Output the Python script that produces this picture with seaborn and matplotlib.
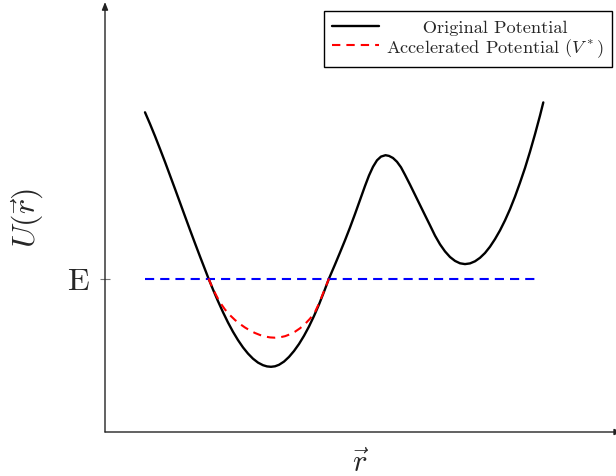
import matplotlib
matplotlib.use("Agg")
import matplotlib.pyplot as plt
import seaborn as sns

# Original potential U(r), arbitrary units
r_orig = [4.0, 4.5, 5.0, 5.5, 6.0, 6.5, 7.0, 7.5, 8.0, 8.5, 9.0, 9.5, 10.0, 10.35,
          10.8, 11.3, 11.8, 12.3, 12.8, 13.3, 13.8, 14.3, 14.8, 15.3, 15.8, 16.2,
          16.6, 17.0, 17.4, 17.9, 18.4, 18.9, 19.4, 19.9, 20.4, 20.9, 21.4, 21.9,
          22.4, 23.0, 23.5, 24.0, 24.5, 25.0, 25.5, 26.0, 26.4, 26.8, 27.2, 27.6,
          28.05, 28.4, 28.8, 29.2, 29.6, 30.0, 30.5, 31.0, 31.5, 32.0, 32.5, 33.0,
          33.5, 34.0, 34.5, 35.0, 35.5, 36.0, 36.5, 37.0, 37.5, 38.0, 38.5, 39.0,
          39.5, 40.0, 40.5, 41.0, 41.5, 42.0, 42.5, 43.0, 43.5, 43.83]
u_orig = [31.97, 30.81, 29.59, 28.31, 27.01, 25.66, 24.31, 22.94, 21.57, 20.21, 18.87,
          17.55, 16.26, 15.35, 14.25, 13.08, 11.98, 10.95, 10.02, 9.19, 8.46, 7.84,
          7.33, 6.94, 6.68, 6.56, 6.52, 6.57, 6.72, 7.04, 7.51, 8.1, 8.8, 9.62,
          10.55, 11.6, 12.75, 14.02, 15.35, 16.75, 17.95, 19.17, 20.45, 21.8, 23.2,
          24.6, 25.65, 26.52, 27.17, 27.54, 27.68, 27.61, 27.4, 27.02, 26.47, 25.72,
          24.74, 23.72, 22.7, 21.68, 20.67, 19.64, 18.77, 18.06, 17.5, 17.11, 16.87,
          16.79, 16.86, 17.07, 17.42, 17.9, 18.53, 19.29, 20.16, 21.16, 22.28, 23.54,
          24.93, 26.4, 28.03, 29.78, 31.64, 32.96]

# Accelerated (boosted) potential V*, defined below the energy level E
r_acc = [10.35, 10.6, 10.9, 11.25, 11.6, 12.0, 12.5, 13.0, 13.5, 14.0, 14.5, 15.0,
         15.5, 16.0, 16.5, 17.0, 17.5, 18.0, 18.5, 19.0, 19.5, 20.0, 20.5, 21.0,
         21.4, 21.8, 22.1, 22.4]
u_acc = [15.35, 14.76, 14.1, 13.42, 12.82, 12.25, 11.68, 11.2, 10.8, 10.45, 10.15,
         9.9, 9.7, 9.55, 9.46, 9.43, 9.47, 9.58, 9.77, 10.03, 10.37, 10.8, 11.33,
         12.0, 12.85, 13.85, 14.6, 15.35]

# Boost energy level E
energy = 15.35
r_energy = [4.0, 43.15]
u_energy = [energy, energy]

sns.set_style("white")
plt.rcParams.update({
    "font.family": "serif",
    "font.serif": ["cmr10"],
    "mathtext.fontset": "cm",
    "axes.unicode_minus": False,
    "axes.formatter.use_mathtext": True,
})

fig = plt.figure(figsize=(6.16, 4.77), dpi=100)
ax = fig.add_axes([105 / 616, 44 / 477, 511 / 616, 430 / 477])

dash = (0, (4.4, 2.9))
sns.lineplot(x=r_orig, y=u_orig, color="black", lw=1.7, ax=ax,
             estimator=None, sort=False, label="      Original Potential")
sns.lineplot(x=r_energy, y=u_energy, color="blue", lw=1.5, linestyle=dash, ax=ax,
             estimator=None, sort=False)
sns.lineplot(x=r_acc, y=u_acc, color="red", lw=1.5, linestyle=(0, (4, 2.9)), ax=ax,
             estimator=None, sort=False, label="Accelerated Potential ($V^*$)")

ax.set_xlim(0, 51.1)
ax.set_ylim(0, 43.0)

# Axis lines with arrow heads
for s in ax.spines.values():
    s.set_visible(False)
arrow = dict(arrowstyle="-|>,head_length=0.45,head_width=0.18", lw=1.0,
             color="#222222", shrinkA=0, shrinkB=0)
ax.annotate("", xy=(0, 1.0), xytext=(0, 0), xycoords="axes fraction",
            textcoords="axes fraction", arrowprops=arrow, annotation_clip=False)
ax.annotate("", xy=(1.012, 0), xytext=(0, 0), xycoords="axes fraction",
            textcoords="axes fraction", arrowprops=arrow, annotation_clip=False)

ax.set_xticks([])
ax.set_yticks([energy])
ax.set_yticklabels(["E"])
ax.tick_params(axis="y", direction="inout", length=7, width=0.8, color="#777777",
               labelsize=23, pad=8, left=True)

ax.set_ylabel(r"$U(\vec{r})$", fontsize=23)
ax.yaxis.set_label_coords(-0.117, 0.5)
ax.set_xlabel(r"$\vec{r}$", fontsize=22)
ax.xaxis.set_label_coords(0.5, -0.038)

leg = ax.legend(loc="upper right", bbox_to_anchor=(612 / 616, 465 / 477),
                bbox_transform=fig.transFigure, frameon=True, fancybox=False,
                edgecolor="black", framealpha=1, fontsize=13.2, handlelength=2.6,
                borderaxespad=0, borderpad=0.45, labelspacing=0.05,
                handletextpad=0.35)
leg.get_frame().set_linewidth(1.0)

fig.savefig("out.png", dpi=100)
